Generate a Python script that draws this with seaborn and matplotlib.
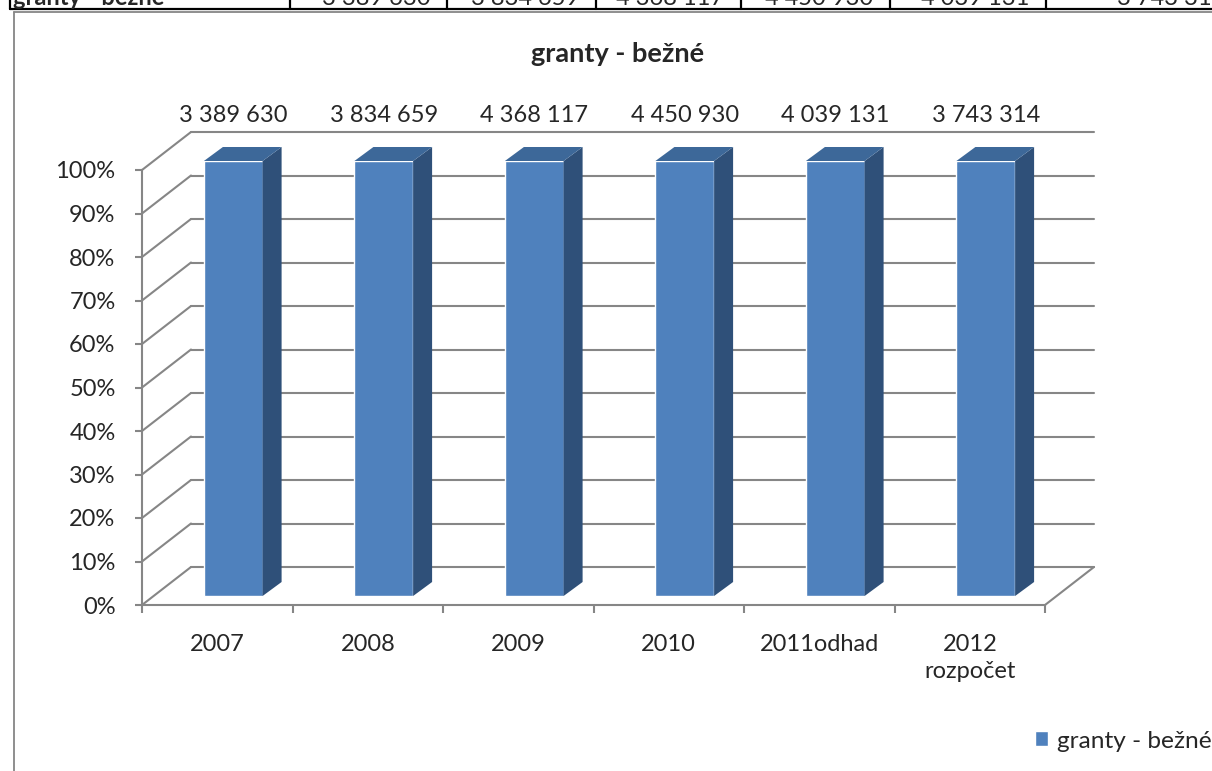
import numpy as np
import pandas as pd
import matplotlib
matplotlib.use('Agg')
import matplotlib.pyplot as plt
from matplotlib.patches import Polygon, Patch
from matplotlib.lines import Line2D
import seaborn as sns

# Data
series_name = 'granty - bežné'
categories = ['2007', '2008', '2009', '2010', '2011odhad', '2012\nrozpočet']
values = [3389630, 3834659, 4368117, 4450930, 4039131, 3743314]
yticks = [0.0, 0.1, 0.2, 0.3, 0.4, 0.5, 0.6, 0.7, 0.8, 0.9, 1.0]

# 100% stacked with one series -> every bar is 100 %
shares = np.array(values) / np.array(values)

# Colours
bar_front = '#4F81BD'
bar_side = '#2F5079'
bar_top = '#3D6899'
grid_col = '#868686'

W, H = 1212, 771
sns.set_style('white')
plt.rcParams['font.family'] = ['Lato', 'DejaVu Sans']

fig = plt.figure(figsize=(W / 100, H / 100), dpi=100)
ax = fig.add_axes([142 / W, 1 - 605 / H, 903 / W, 435 / H])

df = pd.DataFrame({'year': categories, 'share': shares})
sns.barplot(data=df, x='year', y='share', color=bar_front, width=0.39,
            saturation=1, ax=ax, zorder=3)
ax.set_xlim(-0.5, 5.5)
ax.set_ylim(0, 1)
ax.set_xlabel('')
ax.set_ylabel('')

# pixel -> data units (for the fake 3D depth)
ux = 6 / 903
uy = 1 / 435
gx, gy = 49 * ux, 38 * uy     # back wall offset
bx, by = 16 * ux, 9 * uy      # bar front face offset
sx, sy = 19 * ux, 14 * uy     # bar depth

# back wall gridlines + left wall diagonals
for t in yticks:
    ax.plot([-0.5, -0.5 + gx], [t, t + gy], color=grid_col, lw=1.5, clip_on=False, zorder=1)
    ax.plot([-0.5 + gx, 5.5 + gx], [t + gy, t + gy], color=grid_col, lw=1.5, clip_on=False, zorder=1)
# floor right edge
ax.plot([5.5, 5.5 + gx], [0, gy], color=grid_col, lw=1.5, clip_on=False, zorder=1)

# 3D bars
for p in list(ax.patches):
    x0 = p.get_x() + bx
    w = p.get_width()
    h = p.get_height()
    x1 = x0 + w
    p.set_x(x0)
    p.set_y(by)
    p.set_clip_on(False)
    side = Polygon([(x1, by), (x1, by + h), (x1 + sx, by + h + sy), (x1 + sx, by + sy)],
                   closed=True, facecolor=bar_side, edgecolor='none', zorder=3, clip_on=False)
    top = Polygon([(x0, by + h), (x1, by + h), (x1 + sx, by + h + sy), (x0 + sx, by + h + sy)],
                  closed=True, facecolor=bar_top, edgecolor='none', zorder=3, clip_on=False)
    ax.add_patch(side)
    ax.add_patch(top)

# data labels
for i, v in enumerate(values):
    ax.text(i + bx, 1 + 55 * uy, f'{v:,}'.replace(',', ' '), ha='center', va='center',
            fontsize=17, clip_on=False)

# axes styling
for s in ['top', 'right']:
    ax.spines[s].set_visible(False)
for s in ['left', 'bottom']:
    ax.spines[s].set_color(grid_col)
    ax.spines[s].set_linewidth(1.5)

ax.set_yticks(yticks)
ax.set_yticklabels([f'{int(round(t * 100))}%' for t in yticks])
ax.tick_params(axis='y', length=5, width=1.5, color=grid_col, labelsize=17, pad=14, left=True)
ax.set_xticks(range(len(categories)))
ax.set_xticklabels(categories, linespacing=1.35)
ax.set_xticks(np.arange(-0.5, 6, 1), minor=True)
ax.tick_params(axis='x', which='major', length=0, labelsize=17, pad=21)
ax.tick_params(axis='x', which='minor', length=6, width=1.5, color=grid_col, bottom=True)

# title
fig.text(618 / W, 1 - 54 / H, series_name, ha='center', va='center', fontsize=19.5, fontweight='bold')

# legend
fig.legend(handles=[Patch(facecolor=bar_front, label=series_name)], loc='center left',
           bbox_to_anchor=(1035 / W, 1 - 741 / H), frameon=False, fontsize=17.6,
           handlelength=0.55, handleheight=0.55, handletextpad=0.35,
           borderpad=0, borderaxespad=0)

# cut-off table row at the top of the page
fig.add_artist(Line2D([10 / W, 1], [1 - 9 / H] * 2, color='black', lw=1.6))
cell_edges = [10, 290, 447, 596, 741, 890, 1046]
for xe in cell_edges:
    fig.add_artist(Line2D([xe / W] * 2, [1 - 9 / H, 1], color='black', lw=1.6))
fig.text(13 / W, 1 - 5 / H, series_name, fontsize=17, fontweight='bold', va='baseline')
cell_right = cell_edges[2:] + [1242]
for v, xr in zip(values, cell_right):
    fig.text((xr - 17) / W, 1 - 5 / H, f'{v:,}'.replace(',', ' '), fontsize=17,
             ha='right', va='baseline')

# chart frame
fig.add_artist(Line2D([14 / W, 1], [1 - 12 / H] * 2, color=grid_col, lw=1.3))
fig.add_artist(Line2D([14 / W] * 2, [1 - 12 / H, 0], color=grid_col, lw=1.3))

plt.savefig('out.png', dpi=100)
